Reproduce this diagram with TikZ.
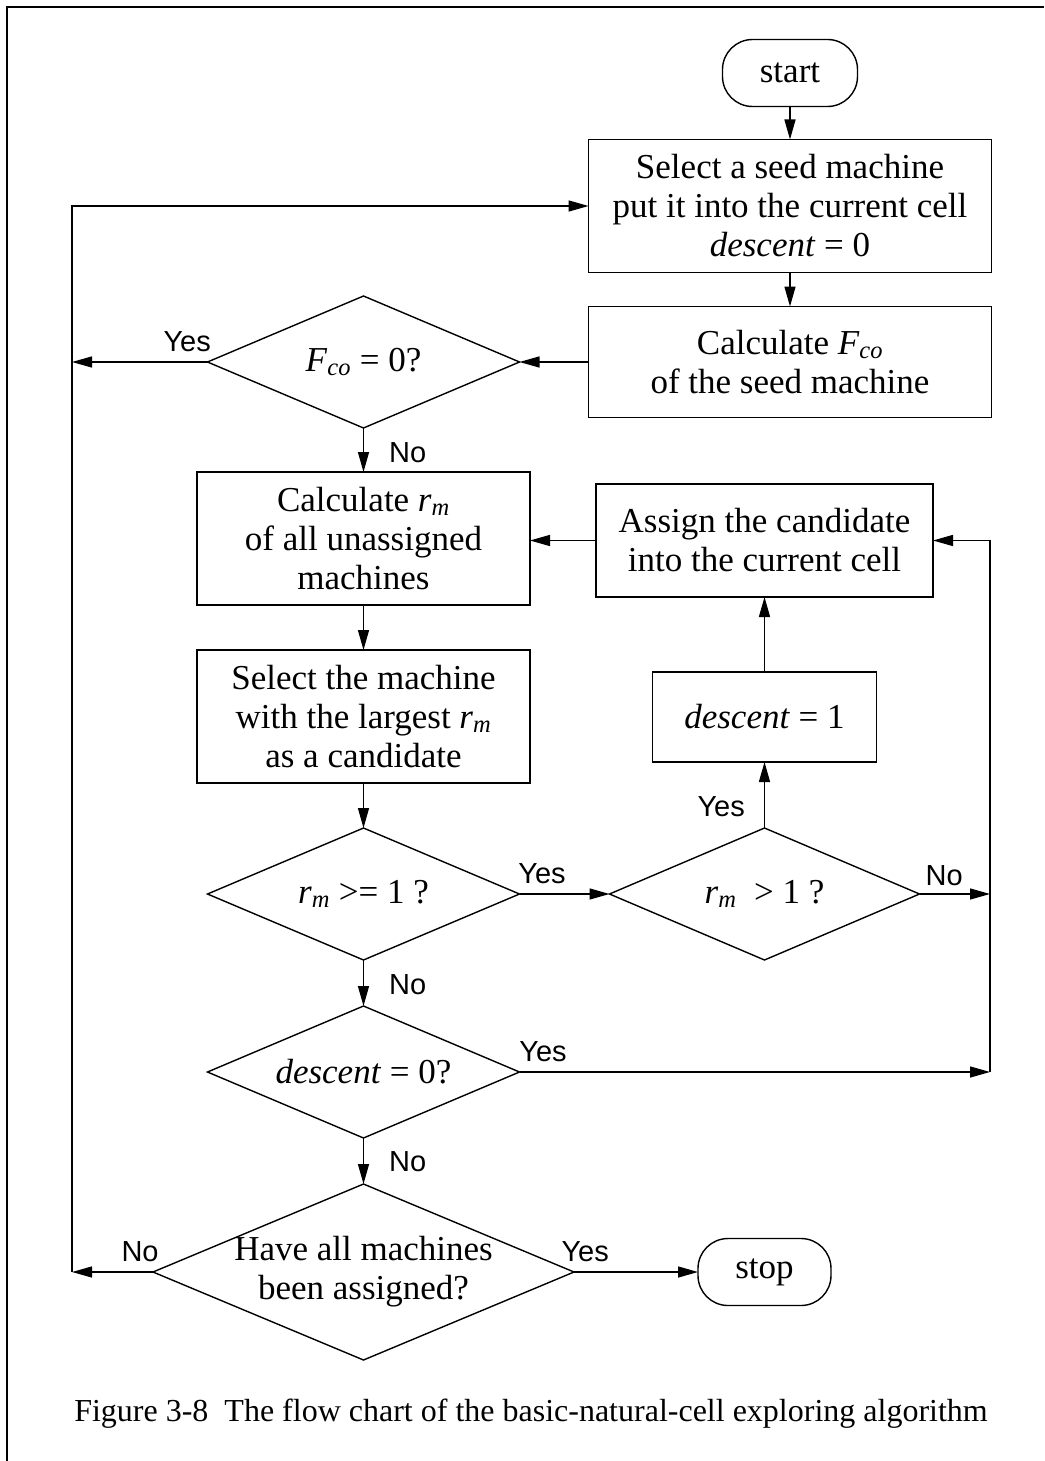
\documentclass[tikz,border=0pt]{standalone}
\usepackage{fontspec}
\setmainfont{Liberation Serif}
\newfontfamily\yesnofont{Liberation Sans}
\usetikzlibrary{positioning,shapes.geometric,arrows.meta}

\begin{document}
\begin{tikzpicture}[x=1pt,y=-1pt,line width=1.4pt,font=\fontsize{35}{39}\selectfont,
box/.style={draw,align=center,inner sep=0pt,outer sep=0pt},
term/.style={draw,rounded corners=30pt,minimum width=135pt,minimum height=67pt,inner sep=0pt,outer sep=0pt},
test/.style={draw,diamond,shape aspect=2.36,inner sep=-5pt,outer sep=0pt,minimum width=312pt,minimum height=132pt,align=center},
yn/.style={font=\yesnofont\fontsize{29}{29}\selectfont,inner sep=0pt},
arr/.style={-{Triangle[length=20pt,width=11pt]}}]
\useasboundingbox (0,0) rectangle (1044,1461);
\draw[line width=2pt] (7,1461) -- (7,7) -- (1044,7);
\node[term] (start) at (790,73) {start};
\node[box,minimum width=403pt,minimum height=133pt,below=33pt of start] (seed) {Select a seed machine\\put it into the current cell\\\textit{descent} = 0};
\node[box,minimum width=403pt,minimum height=111pt,below=34pt of seed] (fco) {Calculate \textit{F}\textsubscript{\textit{co}}\\of the seed machine};
\node[test,left=69pt of fco] (zero) {\textit{F}\textsubscript{\textit{co}} = 0?};
\node[box,minimum width=333pt,minimum height=133pt,below=44pt of zero] (rate) {Calculate \textit{r}\textsubscript{\textit{m}}\\of all unassigned\\machines};
\node[box,minimum width=333pt,minimum height=133pt,below=45pt of rate] (pick) {Select the machine\\with the largest \textit{r}\textsubscript{\textit{m}}\\as a candidate};
\node[test,below=45pt of pick] (ge) {\textit{r}\textsubscript{\textit{m}} >= 1 ?};
\node[test,minimum width=310pt,right=90pt of ge] (gt) {\textit{r}\textsubscript{\textit{m}} \ > 1 ?};
\node[box,minimum width=224pt,minimum height=90pt,above=66pt of gt] (one) {\textit{descent} = 1};
\node[box,minimum width=337pt,minimum height=113pt,above=75pt of one] (assign) {Assign the candidate\\into the current cell};
\node[test,below=46pt of ge] (dzero) {\textit{descent} = 0?};
\node[test,shape aspect=2.39,minimum width=421pt,minimum height=176pt,below=46pt of dzero] (all) {Have all machines\\been assigned?};
\node[term,minimum width=133pt,right=124pt of all] (stop) {stop};
\node[font=\fontsize{32}{38}\selectfont] (caption) at (531,1414) {Figure 3-8\ \ The flow chart of the basic-natural-cell exploring algorithm};
\coordinate (loopl) at (72,0);
\coordinate (loopr) at (990,0);
\draw[arr] (start) -- (seed);
\draw[arr] (seed) -- (fco);
\draw[arr] (fco) -- (zero);
\draw[arr] (zero.west) -- node[yn,pos=0.15,above=10pt] (yes1) {Yes} (zero.west -| loopl);
\draw[arr] (zero.south) -- node[yn,pos=0.55,right=25pt] (no1) {No} (rate.north);
\draw[arr] (rate.south) -- (pick.north);
\draw[arr] (pick.south) -- (ge.north);
\draw[arr] (ge.east) -- node[yn,pos=0.25,above=10pt] (yes2) {Yes} (gt.west);
\draw[arr] (gt.north) -- node[yn,pos=0.32,left=19pt] (yes3) {Yes} (one.south);
\draw[arr] (one.north) -- (assign.south);
\draw[arr] (assign.west) -- (assign.west -| rate.east);
\draw[arr] (gt.east) -- node[yn,pos=0.35,above=8pt] (no2) {No} (gt.east -| loopr);
\draw[arr] (ge.south) -- node[yn,pos=0.54,right=25pt] (no3) {No} (dzero.north);
\draw[arr] (dzero.east) -- node[yn,pos=0.05,above=10pt] (yes4) {Yes} (dzero.east -| loopr);
\draw[arr] (dzero.east -| loopr) |- (assign.east);
\draw[arr] (dzero.south) -- node[yn,pos=0.52,right=25pt] (no4) {No} (all.north);
\draw[arr] (all.east) -- node[yn,pos=0.09,above=10pt] (yes5) {Yes} (stop.west);
\draw[arr] (all.west) -- node[yn,pos=0.16,above=10pt] (no5) {No} (all.west -| loopl);
\draw[arr] (all.west -| loopl) |- (seed.west);
\end{tikzpicture}
\end{document}
